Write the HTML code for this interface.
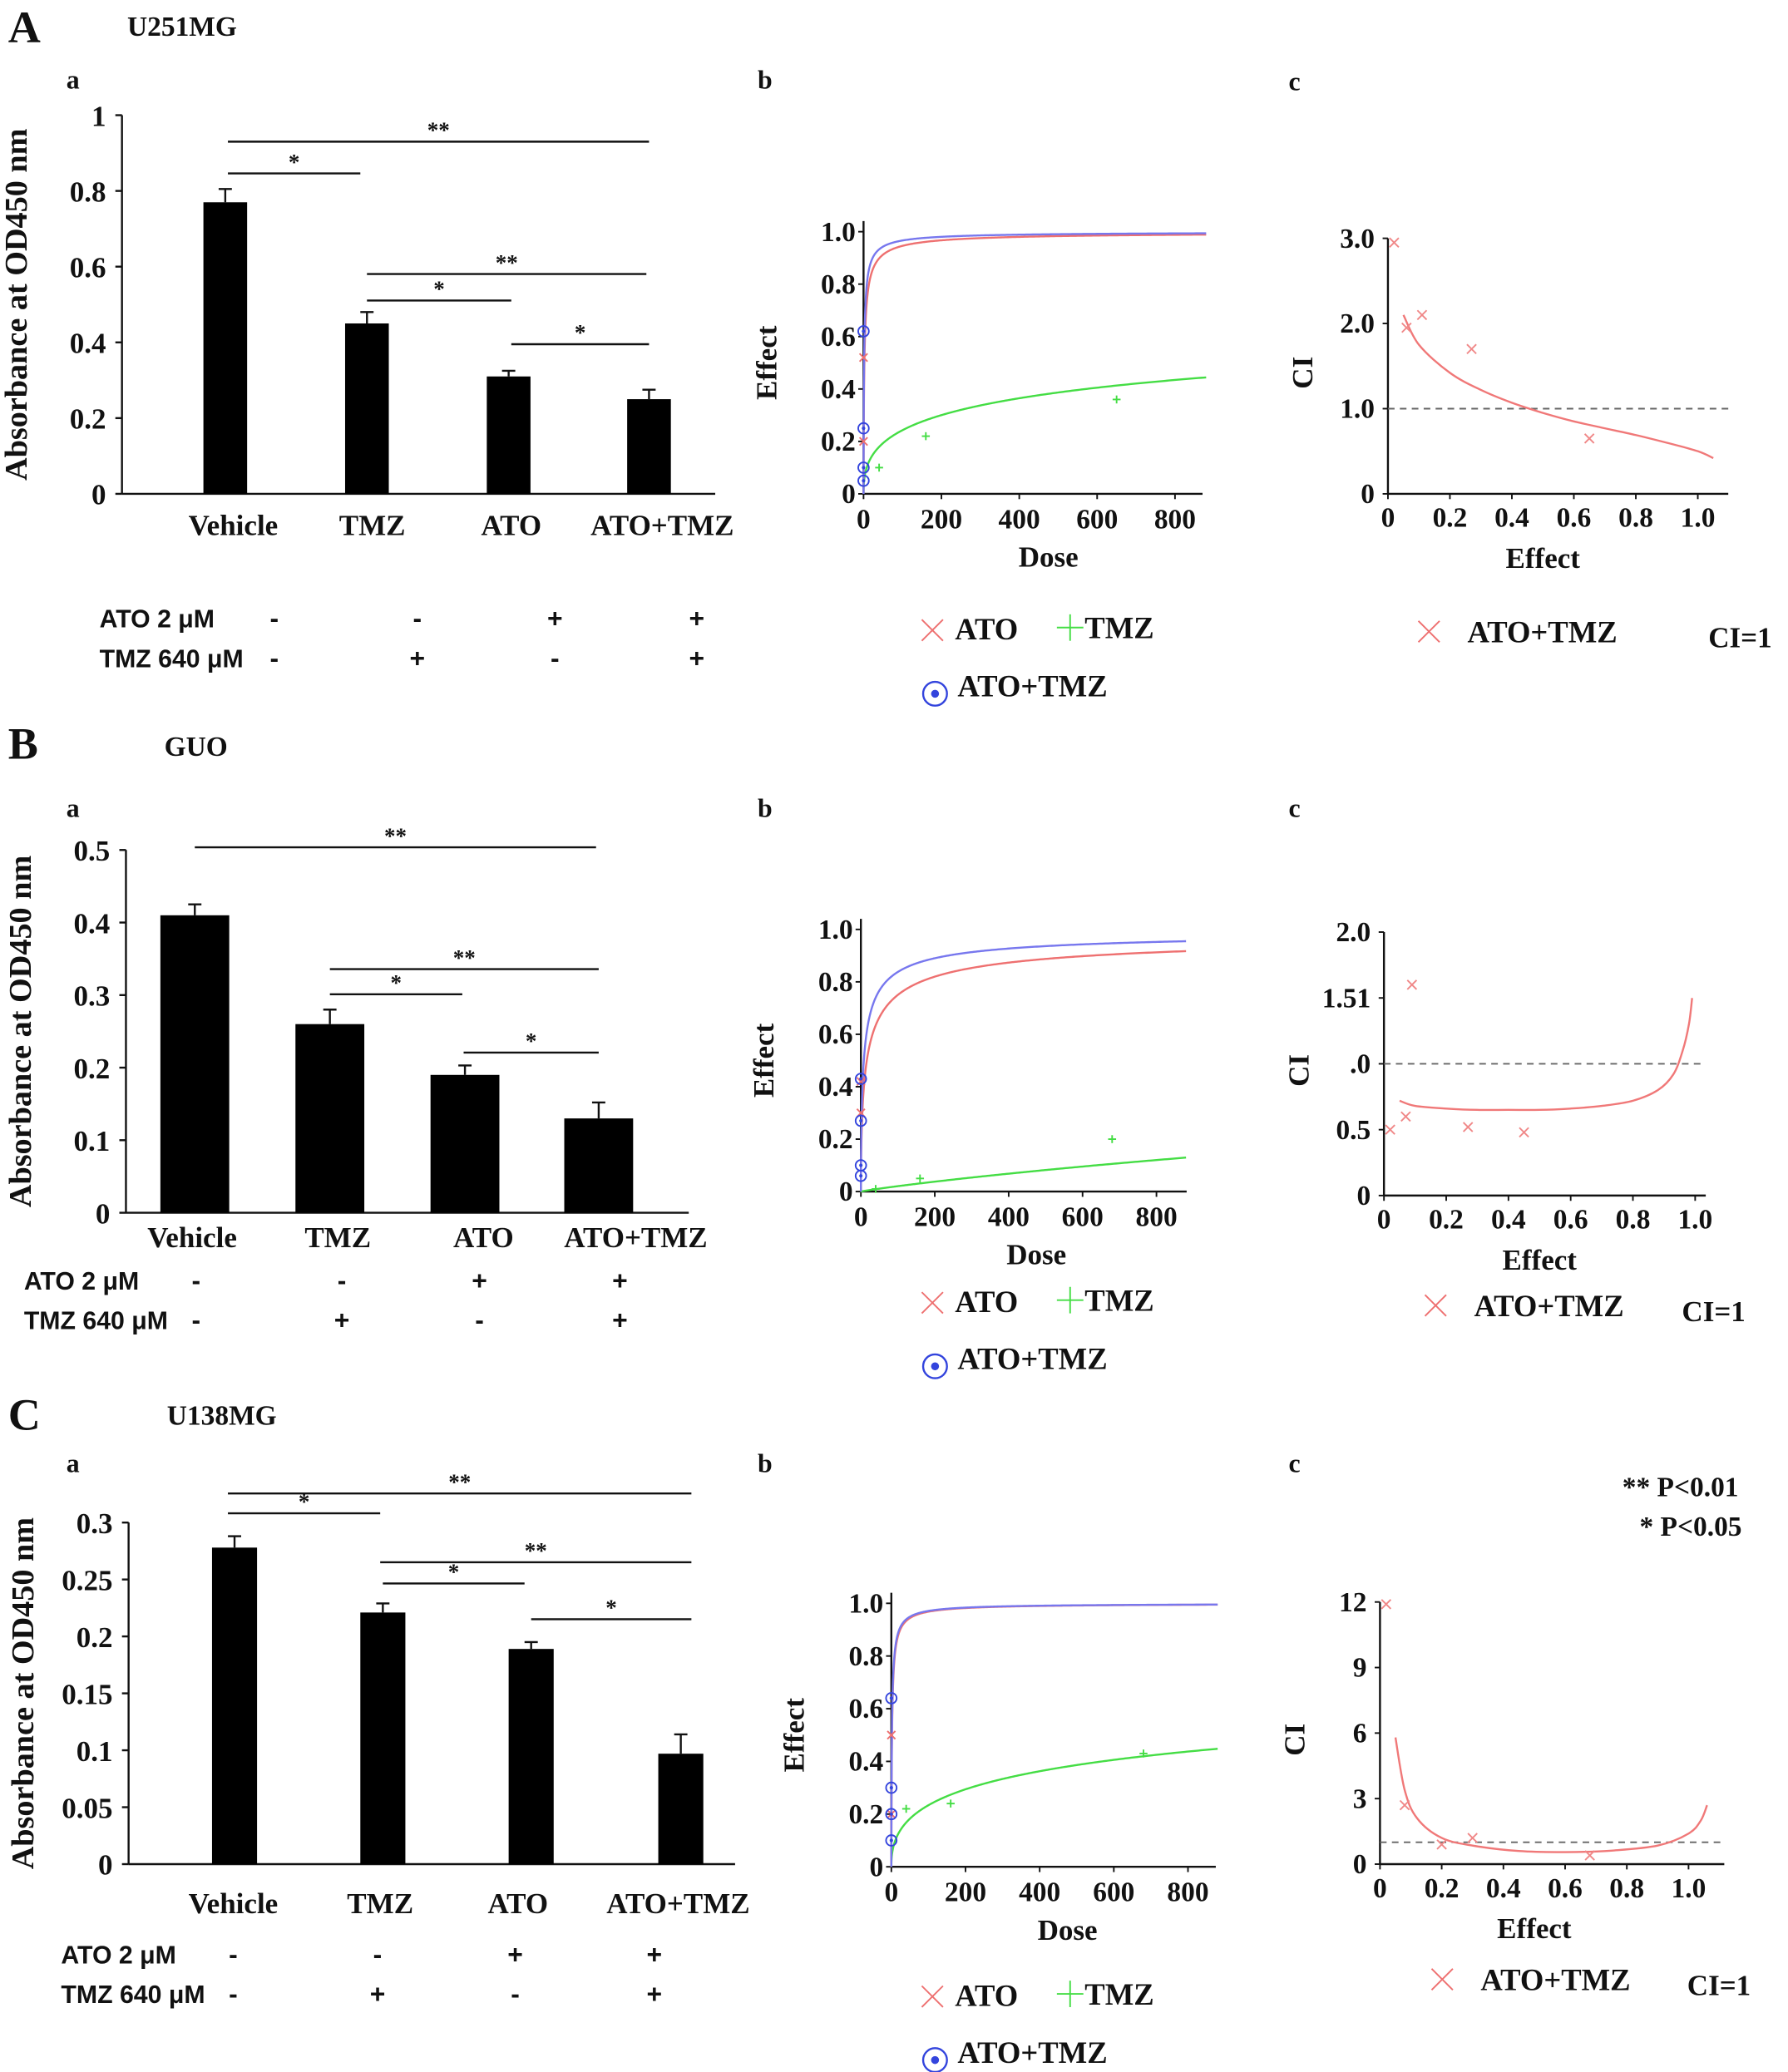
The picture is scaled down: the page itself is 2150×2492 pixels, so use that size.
<!DOCTYPE html>
<html><head><meta charset="utf-8"><style>
html,body{margin:0;padding:0;background:#fff}
svg{display:block}
text{font-family:"Liberation Serif",serif;font-weight:bold;fill:#111}
.sans{font-family:"Liberation Sans",sans-serif}
</style></head><body>
<svg id="fig" width="2150" height="2492" viewBox="0 0 1350 1565" xmlns="http://www.w3.org/2000/svg"></svg>
<script>
// ---------- DATA ----------
const categories = ["Vehicle","TMZ","ATO","ATO+TMZ"];
const barA = [0.77,0.45,0.31,0.25];
const errA = [0.035,0.03,0.015,0.025];
const barB = [0.41,0.26,0.19,0.13];
const errB = [0.015,0.02,0.013,0.022];
const barC = [0.278,0.221,0.189,0.097];
const errC = [0.01,0.008,0.006,0.017];
const atoRow = ["-","-","+","+"];
const tmzRow = ["-","+","-","+"];
// dose-effect median-effect params [Dm, m]
const medA = {ato:[2.2,0.75], tmz:[1500,0.42], combo:[1.5,0.8]};
const medB = {ato:[16,0.6], tmz:[7300,0.9], combo:[8,0.65]};
const medC = {ato:[1.8,0.85], tmz:[1400,0.45], combo:[1.6,0.85]};
const ptsA_ato=[[0,0.52],[0,0.2]], ptsA_tmz=[[40,0.1],[160,0.22],[650,0.36]], ptsA_combo=[[0,0.62],[0,0.25],[0,0.1],[0,0.05]];
const ptsB_ato=[[0,0.42],[0,0.3]], ptsB_tmz=[[40,0.01],[160,0.05],[680,0.2]], ptsB_combo=[[0,0.43],[0,0.27],[0,0.1],[0,0.06]];
const ptsC_ato=[[0,0.5],[0,0.2]], ptsC_tmz=[[40,0.22],[160,0.24],[680,0.43]], ptsC_combo=[[0,0.64],[0,0.3],[0,0.2],[0,0.1]];
// CI curves (effect, CI) and points
const ciCurveA=[[0.05,2.1],[0.1,1.75],[0.2,1.42],[0.3,1.22],[0.4,1.07],[0.5,0.95],[0.6,0.85],[0.7,0.77],[0.8,0.69],[0.9,0.6],[1.0,0.5],[1.05,0.42]];
const ciPtsA=[[0.02,2.95],[0.06,1.95],[0.11,2.1],[0.27,1.7],[0.65,0.65]];
const ciCurveB=[[0.05,0.72],[0.1,0.68],[0.2,0.66],[0.3,0.65],[0.4,0.65],[0.5,0.65],[0.6,0.66],[0.7,0.68],[0.8,0.72],[0.88,0.8],[0.93,0.92],[0.96,1.1],[0.98,1.3],[0.99,1.5]];
const ciPtsB=[[0.02,0.5],[0.07,0.6],[0.09,1.6],[0.27,0.52],[0.45,0.48]];
const ciCurveC=[[0.05,5.8],[0.08,3.4],[0.12,2.1],[0.2,1.2],[0.3,0.85],[0.45,0.6],[0.6,0.55],[0.75,0.62],[0.9,0.85],[1.0,1.4],[1.04,2.0],[1.06,2.7]];
const ciPtsC=[[0.02,11.9],[0.08,2.7],[0.2,0.9],[0.3,1.2],[0.68,0.4]];

// ---------- HELPERS ----------
const svg=document.getElementById('fig');const NS="http://www.w3.org/2000/svg";
function el(tag,attrs,parent){const e=document.createElementNS(NS,tag);for(const k in attrs)e.setAttribute(k,attrs[k]);(parent||svg).appendChild(e);return e;}
function txt(s,x,y,size,anchor,cls,parent){const t=el('text',{x:x,y:y,'font-size':size,'text-anchor':anchor||'start'},parent);if(cls)t.setAttribute('class',cls);t.textContent=s;return t;}
function line(x1,y1,x2,y2,stroke,w,parent,dash){const l=el('line',{x1,y1,x2,y2,stroke:stroke||'#111','stroke-width':w||1.5},parent);if(dash)l.setAttribute('stroke-dasharray',dash);return l;}

function barPanel(o){
  const g=el('g',{});
  
  
  const y=v=>o.y0-(v/o.ymax)*(o.y0-o.ytop);
  line(o.x0,o.ytop,o.x0,o.y0,'#111',1.5,g);
  line(o.x0,o.y0,o.xend,o.y0,'#111',1.5,g);
  o.ticks.forEach((t,i)=>{line(o.x0-5,y(t),o.x0,y(t),'#111',1.5,g);const tl=txt(o.tickLabels[i],o.x0-12,y(t)+8,22,'end',null,g);});
  const yt=el('text',{x:0,y:0,'font-size':24,'text-anchor':'middle',transform:`translate(${o.x0-72},${(o.ytop+o.y0)/2}) rotate(-90)`},g);yt.textContent="Absorbance at OD450 nm";
  
  o.vals.forEach((v,i)=>{
    const cx=o.cx[i];
    const r=el('rect',{x:cx-o.bw/2,y:y(v),width:o.bw,height:o.y0-y(v),fill:'#000'},g);
    
    
    line(cx,y(v),cx,y(v+o.err[i]),'#111',1.5,g);
    line(cx-5,y(v+o.err[i]),cx+5,y(v+o.err[i]),'#111',1.5,g);
    const cl=txt(categories[i],cx+o.labOff[i],o.labY,22,'middle',null,g);
    
  });
  o.sig.forEach(s=>{line(s[0],s[2],s[1],s[2],'#111',1.5,g);txt(s[3],(s[0]+s[1])/2,s[2]-3,17,'middle',null,g);});
  const t1=txt("ATO  2 μM",o.tabX,o.tabY,19,'start','sans',g);
  const t2=txt("TMZ 640 μM",o.tabX,o.tabY+30,19,'start','sans',g);
  atoRow.forEach((s,i)=>txt(s,o.signX[i],o.tabY,20,'middle','sans',g));
  tmzRow.forEach((s,i)=>txt(s,o.signX[i],o.tabY+30,20,'middle','sans',g));
}

function fa(D,p){if(D<=0)return 0;return 1/(1+Math.pow(p[0]/D,p[1]));}
function crossMark(x,y,c,s,g){line(x-s,y-s,x+s,y+s,c,1.2,g);line(x-s,y+s,x+s,y-s,c,1.2,g);}
function plusMark(x,y,c,s,g){line(x-s,y,x+s,y,c,1.2,g);line(x,y-s,x,y+s,c,1.2,g);}
function circMark(x,y,g){el('circle',{cx:x,cy:y,r:4,fill:'none',stroke:'#3344dd','stroke-width':1.2},g);el('circle',{cx:x,cy:y,r:1.3,fill:'#3344dd'},g);}

function dosePanel(o){
  const g=el('g',{});
  
  
  const X=d=>o.x0+d*o.kx, Y=v=>o.y0-v*(o.y0-o.ytop);
  line(o.x0,o.ytop-8,o.x0,o.y0,'#111',1.5,g);line(o.x0,o.y0,o.xend,o.y0,'#111',1.5,g);
  [0,0.2,0.4,0.6,0.8,1.0].forEach(v=>{line(o.x0-4,Y(v),o.x0,Y(v),'#111',1.2,g);txt(v===0?"0":v.toFixed(1),o.x0-6,Y(v)+7,21,'end',null,g);});
  [0,200,400,600,800].forEach(d=>{line(X(d),o.y0,X(d),o.y0+4,'#111',1.2,g);txt(String(d),X(d),o.y0+26,21,'middle',null,g);});
  const xt=txt("Dose",X(475),o.y0+55,22,'middle',null,g);
  const yt=el('text',{x:0,y:0,'font-size':22,'text-anchor':'middle',transform:`translate(${o.x0-66},${Y(0.5)}) rotate(-90)`},g);yt.textContent="Effect";
  
  const mk=(p,c,nm)=>{let d="";for(let i=0;i<=400;i++){const D=Math.pow(i/400,3)*o.dmax;d+=(i?"L":"M")+X(D).toFixed(2)+","+Y(fa(D,p)).toFixed(2);}const pth=el('path',{d,fill:'none',stroke:c,'stroke-width':1.5},g);};
  mk(o.med.tmz,'#44dd44','tmz-curve');mk(o.med.ato,'#ee7070','ato-curve');mk(o.med.combo,'#7777ee','combo-curve');
  o.pAto.forEach(p=>crossMark(X(p[0]),Y(p[1]),'#ee7070',3,g));
  o.pTmz.forEach(p=>plusMark(X(p[0]),Y(p[1]),'#44dd44',3,g));
  o.pCombo.forEach(p=>circMark(X(p[0]),Y(p[1]),g));
  const L=o.leg;
  crossMark(L[0]+9,L[1]-7,'#ee7070',8,g);txt("ATO",L[0]+26,L[1],23,'start',null,g);
  plusMark(L[0]+113,L[1]-9,'#44dd44',10,g);txt("TMZ",L[0]+124,L[1]-1,23,'start',null,g);
  el('circle',{cx:L[0]+11,cy:L[1]+41,r:9,fill:'none',stroke:'#3344dd','stroke-width':1.5},g);el('circle',{cx:L[0]+11,cy:L[1]+41,r:3,fill:'#3344dd'},g);
  txt("ATO+TMZ",L[0]+28,L[1]+43,23,'start',null,g);
}

function smoothPath(P){
  let d="M"+P[0][0].toFixed(1)+","+P[0][1].toFixed(1);
  for(let i=0;i<P.length-1;i++){
    const p0=P[Math.max(0,i-1)],p1=P[i],p2=P[i+1],p3=P[Math.min(P.length-1,i+2)];
    const c1=[p1[0]+(p2[0]-p0[0])/6,p1[1]+(p2[1]-p0[1])/6],c2=[p2[0]-(p3[0]-p1[0])/6,p2[1]-(p3[1]-p1[1])/6];
    d+=`C${c1[0].toFixed(1)},${c1[1].toFixed(1)} ${c2[0].toFixed(1)},${c2[1].toFixed(1)} ${p2[0].toFixed(1)},${p2[1].toFixed(1)}`;
  }
  return d;
}

function ciPanel(o){
  const g=el('g',{});
  
  
  const X=e=>o.x0+e*o.kx, Y=v=>o.y0-(v/o.ymax)*(o.y0-o.ytop);
  line(o.x0,o.ytop,o.x0,o.y0,'#111',1.5,g);line(o.x0,o.y0,o.xend,o.y0,'#111',1.5,g);
  o.ticks.forEach((t,i)=>{line(o.x0-4,Y(t),o.x0,Y(t),'#111',1.2,g);txt(o.tickLabels[i],o.x0-10,Y(t)+7,21,'end',null,g);});
  [0,0.2,0.4,0.6,0.8,1.0].forEach(e=>{line(X(e),o.y0,X(e),o.y0+4,'#111',1.2,g);txt(e===0?"0":e.toFixed(1),X(e),o.y0+25,21,'middle',null,g);});
  const xt=txt("Effect",X(0.5),o.y0+56,22,'middle',null,g);
  const yt=el('text',{x:0,y:0,'font-size':22,'text-anchor':'middle',transform:`translate(${o.x0-57},${(o.ytop+o.y0)/2+5}) rotate(-90)`},g);yt.textContent="CI";
  
  line(o.x0,Y(1),o.xend,Y(1),'#666',1.2,g,'5,4');
  const pth=el('path',{d:smoothPath(o.curve.map(p=>[X(p[0]),Y(p[1])])),fill:'none',stroke:'#f07878','stroke-width':1.5},g);
  
  o.pts.forEach(p=>crossMark(X(p[0]),Y(p[1]),'#f08888',3.5,g));
  const L=o.leg;
  crossMark(L[0]+9,L[1]-8,'#ee7070',8,g);txt("ATO+TMZ",L[0]+38,L[1],23,'start',null,g);
  txt("CI=1",L[2],L[1]+4,22,'start',null,g);
}

// ---------- LABELS ----------
txt("A",6,32,34);txt("U251MG",96,27,21);
txt("B",6,573,34);txt("GUO",124,571,21);
txt("C",6,1080,34);txt("U138MG",126,1076,21);
[["a",50,67],["b",572,67],["c",973,68],["a",50,617],["b",572,617],["c",973,617],["a",50,1112],["b",572,1112],["c",973,1112]].forEach(a=>txt(a[0],a[1],a[2],20));
txt("** P<0.01",1225,1130,21);txt("* P<0.05",1238,1160,21);

// ---------- PANELS ----------
barPanel({name:'chart-a-absorbance',x0:92,y0:373,ytop:87,ymax:1,xend:540,ticks:[0,0.2,0.4,0.6,0.8,1],tickLabels:["0","0.2","0.4","0.6","0.8","1"],vals:barA,err:errA,cx:[170,277,384,490],bw:33,labY:404,labOff:[6,4,2,10],
  sig:[[172,490,107,"**"],[172,272,131,"*"],[277,488,207,"**"],[277,386,227,"*"],[386,490,260,"*"]],tabX:75,tabY:474,signX:[207,315,419,526]});
barPanel({name:'chart-b-absorbance',x0:95,y0:916,ytop:642,ymax:0.5,xend:520,ticks:[0,0.1,0.2,0.3,0.4,0.5],tickLabels:["0","0.1","0.2","0.3","0.4","0.5"],vals:barB,err:errB,cx:[147,249,351,452],bw:52,labY:942,labOff:[-2,6,14,28],
  sig:[[147,450,640,"**"],[249,452,732,"**"],[249,349,751,"*"],[350,452,795,"*"]],tabX:18,tabY:974,signX:[148,258,362,468]});
barPanel({name:'chart-c-absorbance',x0:97,y0:1408,ytop:1150,ymax:0.3,xend:555,ticks:[0,0.05,0.1,0.15,0.2,0.25,0.3],tickLabels:["0","0.05","0.1","0.15","0.2","0.25","0.3"],vals:barC,err:errC,cx:[177,289,401,514],bw:34,labY:1445,labOff:[-1,-2,-10,-2],
  sig:[[172,522,1128,"**"],[172,287,1143,"*"],[287,522,1180,"**"],[289,396,1196,"*"],[401,522,1223,"*"]],tabX:46,tabY:1483,signX:[176,285,389,494]});

dosePanel({name:'chart-a-dose-effect',x0:652,y0:373,ytop:175,kx:0.294,xend:908,dmax:880,med:medA,pAto:ptsA_ato,pTmz:ptsA_tmz,pCombo:ptsA_combo,leg:[695,483]});
dosePanel({name:'chart-b-dose-effect',x0:650,y0:900,ytop:702,kx:0.279,xend:896,dmax:880,med:medB,pAto:ptsB_ato,pTmz:ptsB_tmz,pCombo:ptsB_combo,leg:[695,991]});
dosePanel({name:'chart-c-dose-effect',x0:673,y0:1410,ytop:1211,kx:0.28,xend:918,dmax:880,med:medC,pAto:ptsC_ato,pTmz:ptsC_tmz,pCombo:ptsC_combo,leg:[695,1515]});

ciPanel({name:'chart-a-ci',x0:1048,y0:373,ytop:180,ymax:3,kx:234,xend:1305,ticks:[0,1,2,3],tickLabels:["0","1.0","2.0","3.0"],curve:ciCurveA,pts:ciPtsA,leg:[1070,485,1290]});
ciPanel({name:'chart-b-ci',x0:1045,y0:903,ytop:704,ymax:2,kx:235,xend:1288,ticks:[0,0.5,1,1.5,2],tickLabels:["0","0.5",".0","1.51","2.0"],curve:ciCurveB,pts:ciPtsB,leg:[1075,994,1270]});
ciPanel({name:'chart-c-ci',x0:1042,y0:1408,ytop:1210,ymax:12,kx:233,xend:1302,ticks:[0,3,6,9,12],tickLabels:["0","3","6","9","12"],curve:ciCurveC,pts:ciPtsC,leg:[1080,1503,1274]});
</script>
</body></html>
